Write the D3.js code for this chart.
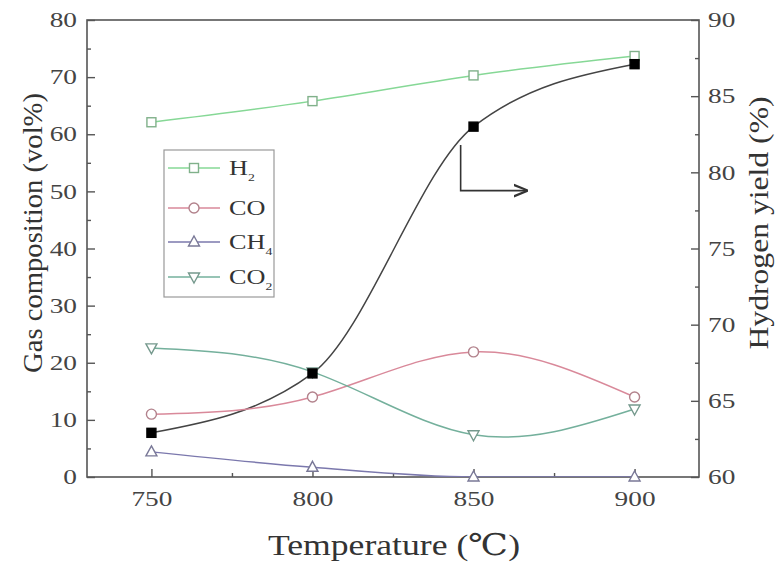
<!DOCTYPE html>
<html><head><meta charset="utf-8">
<script src="https://cdn.jsdelivr.net/npm/d3@7"></script>
<style>body{margin:0;background:#fff}svg{display:block}</style>
</head><body>
<svg id="c" width="780" height="572"></svg>
<script>
const temps = [750, 800, 850, 900];
const h2 = [62.1, 65.8, 70.3, 73.7];
const co = [11.0, 14.0, 21.9, 14.0];
const ch4 = [4.4, 1.7, 0, 0];
const co2 = [22.6, 18.4, 7.4, 11.9];
const yieldH2 = [62.9, 66.8, 83.0, 87.1];
const xTicks = [750, 800, 850, 900];
const yLeftTicks = [0, 10, 20, 30, 40, 50, 60, 70, 80];
const yRightTicks = [60, 65, 70, 75, 80, 85, 90];

const FONT = "'Liberation Serif', 'Times New Roman', Tinos, 'DejaVu Serif', serif";
const svg = d3.select("#c");
const L = 87, R = 699, T = 20, B = 477;
const x = d3.scaleLinear().domain([730, 920]).range([L, R]);
const y = d3.scaleLinear().domain([0, 80]).range([B, T]);
const y2 = d3.scaleLinear().domain([60, 90]).range([B, T]);
const axisCol = "#555", txtCol = "#444";

svg.append("clipPath").attr("id","pc").append("rect").attr("x",L).attr("y",T).attr("width",R-L).attr("height",B-T);

svg.append("rect").attr("x",L).attr("y",T).attr("width",R-L).attr("height",B-T)
  .attr("fill","none").attr("stroke",axisCol).attr("stroke-width",1.6);

svg.append("g").attr("transform",`translate(0,${B})`)
  .call(d3.axisBottom(x).tickValues(xTicks).tickSize(-8).tickPadding(14).tickFormat(d3.format("d")));
svg.append("g").attr("transform",`translate(0,${B})`)
  .call(d3.axisBottom(x).tickValues([775,825,875]).tickSize(-4).tickFormat(""));
svg.append("g").attr("transform",`translate(${L},0)`)
  .call(d3.axisLeft(y).tickValues(yLeftTicks).tickSize(-8).tickPadding(10));
svg.append("g").attr("transform",`translate(${L},0)`)
  .call(d3.axisLeft(y).tickValues(d3.range(5,80,10)).tickSize(-4).tickFormat(""));
svg.append("g").attr("transform",`translate(${R},0)`)
  .call(d3.axisRight(y2).tickValues(yRightTicks).tickSize(-8).tickPadding(9));
svg.append("g").attr("transform",`translate(${R},0)`)
  .call(d3.axisRight(y2).tickValues([62.5,67.5,72.5,77.5,82.5,87.5]).tickSize(-4).tickFormat(""));
svg.selectAll(".domain").remove();
svg.selectAll("g").attr("font-family", FONT);
svg.selectAll(".tick line").attr("stroke",axisCol).attr("stroke-width",1.4);
svg.selectAll(".tick text").attr("fill",txtCol).attr("font-size","21px").attr("font-family",FONT)
  .each(function(){ const w=this.getComputedTextLength(); if(w>0) d3.select(this).attr("textLength",w*1.3).attr("lengthAdjust","spacingAndGlyphs"); });

svg.append("text").attr("transform",`translate(42,233) rotate(-90)`).attr("text-anchor","middle")
  .attr("font-family",FONT).attr("font-size","27px").attr("fill","#333")
  .attr("textLength",280).attr("lengthAdjust","spacingAndGlyphs").text("Gas composition (vol%)");
svg.append("text").attr("transform",`translate(768,223) rotate(-90)`).attr("text-anchor","middle")
  .attr("font-family",FONT).attr("font-size","27px").attr("fill","#333")
  .attr("textLength",253).attr("lengthAdjust","spacingAndGlyphs").text("Hydrogen yield (%)");
svg.append("text").attr("x",394).attr("y",555).attr("text-anchor","middle")
  .attr("font-family",FONT).attr("font-size","30px").attr("fill","#333")
  .attr("textLength",252).attr("lengthAdjust","spacingAndGlyphs").text("Temperature (℃)");

const series = [
  {name:"H2", vals:h2, col:"#86d896", mk:"square", curve:d3.curveNatural},
  {name:"CO", vals:co, col:"#d9899a", mk:"circle", curve:d3.curveNatural},
  {name:"CH4", vals:ch4, col:"#7b78ad", mk:"triangle", curve:d3.curveMonotoneX},
  {name:"CO2", vals:co2, col:"#74b09c", mk:"triangleDown", curve:d3.curveNatural}
];
const plot = svg.append("g").attr("clip-path","url(#pc)");

function marker(g, type, cx, cy, stroke, fill){
  if(type==="square") g.append("rect").attr("x",cx-4.5).attr("y",cy-4.5).attr("width",9).attr("height",9)
      .attr("fill",fill).attr("stroke",stroke).attr("stroke-width",1.4);
  else if(type==="circle") g.append("circle").attr("cx",cx).attr("cy",cy).attr("r",5)
      .attr("fill",fill).attr("stroke",stroke).attr("stroke-width",1.4);
  else if(type==="triangle") g.append("path").attr("d",`M${cx},${cy-6}L${cx+5.5},${cy+4}L${cx-5.5},${cy+4}Z`)
      .attr("fill",fill).attr("stroke",stroke).attr("stroke-width",1.4);
  else if(type==="triangleDown") g.append("path").attr("d",`M${cx},${cy+6}L${cx+5.5},${cy-4}L${cx-5.5},${cy-4}Z`)
      .attr("fill",fill).attr("stroke",stroke).attr("stroke-width",1.4);
}

const yieldLine = d3.line().x((d,i)=>x(temps[i])).y(d=>y2(d)).curve(d3.curveMonotoneX);
plot.append("path").attr("d",yieldLine(yieldH2)).attr("fill","none").attr("stroke","#444").attr("stroke-width",1.5);

series.forEach(s=>{
  const line = d3.line().x((d,i)=>x(temps[i])).y(d=>y(d)).curve(s.curve);
  plot.append("path").attr("d",line(s.vals)).attr("fill","none").attr("stroke",s.col).attr("stroke-width",1.5);
});
series.forEach(s=>{
  s.vals.forEach((v,i)=>marker(svg, s.mk, x(temps[i]), y(v), d3.interpolateRgb(s.col,"#777")(0.4), "#fff"));
});
yieldH2.forEach((v,i)=>marker(svg,"square",x(temps[i]),y2(v),"#000","#000"));

svg.append("defs").append("marker").attr("id","ah").attr("viewBox","0 0 10 10").attr("refX",9).attr("refY",5)
  .attr("markerWidth",9).attr("markerHeight",9).attr("orient","auto")
  .append("path").attr("d","M0,1L10,5L0,9").attr("fill","none").attr("stroke","#333").attr("stroke-width",1.5);
svg.append("path").attr("d",`M${x(846)},${y2(81.8)}V${y2(78.8)}H${x(866.5)}`)
  .attr("fill","none").attr("stroke","#333").attr("stroke-width",1.6).attr("marker-end","url(#ah)");

const lg = svg.append("g");
lg.append("rect").attr("x",164).attr("y",150).attr("width",110).attr("height",147)
  .attr("fill","#fff").attr("stroke","#999").attr("stroke-width",1.2);
const lys = [168, 208, 242, 277];
const subs = [["H","2"],["CO",""],["CH","4"],["CO","2"]];
series.forEach((s,i)=>{
  const ly = lys[i];
  lg.append("line").attr("x1",168).attr("x2",220).attr("y1",ly).attr("y2",ly).attr("stroke",s.col).attr("stroke-width",1.5);
  marker(lg, s.mk, 194, ly, d3.interpolateRgb(s.col,"#777")(0.4), "#fff");
  const t = lg.append("text").attr("transform",`translate(229,${ly+7}) scale(1.25,1)`)
    .attr("font-family",FONT).attr("font-size","21px").attr("fill","#333");
  t.append("tspan").text(subs[i][0]);
  if(subs[i][1]) t.append("tspan").attr("dy",6).attr("font-size","11px").text(subs[i][1]);
});
</script>
</body></html>
